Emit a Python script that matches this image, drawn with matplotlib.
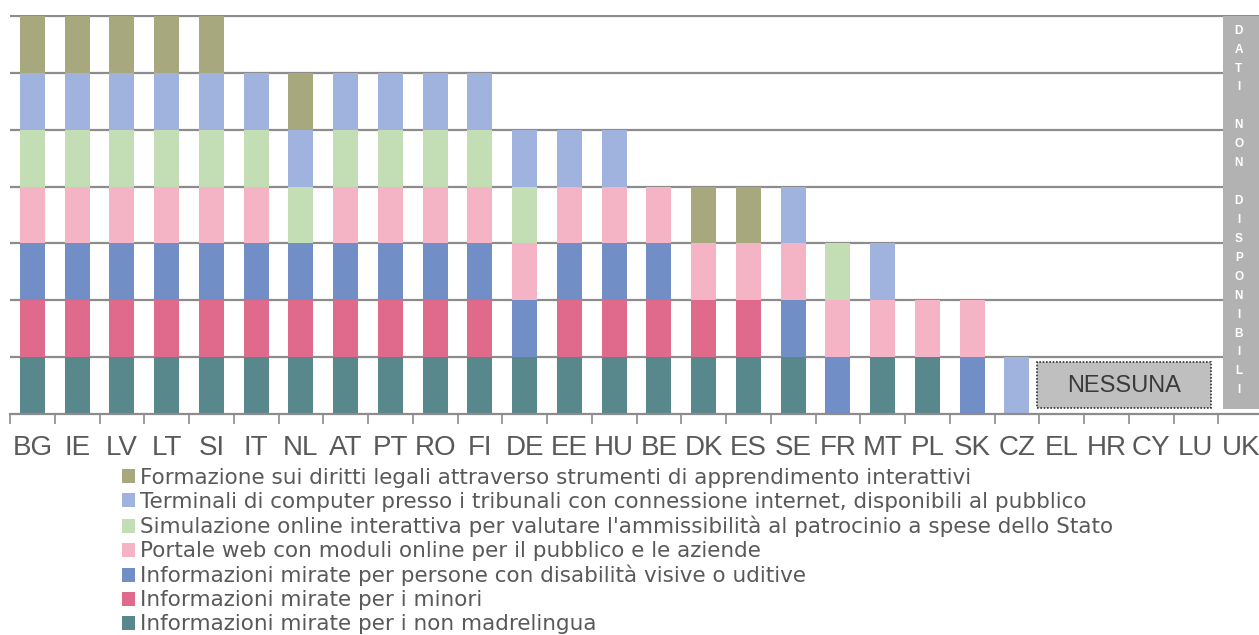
import matplotlib.pyplot as plt
from matplotlib.patches import Rectangle, Patch

plt.rcParams['font.family'] = ['Liberation Sans', 'DejaVu Sans']

# countries on the x axis
countries = ["BG", "IE", "LV", "LT", "SI", "IT", "NL", "AT", "PT", "RO", "FI",
             "DE", "EE", "HU", "BE", "DK", "ES", "SE", "FR", "MT", "PL", "SK",
             "CZ", "EL", "HR", "CY", "LU", "UK"]

# which tools each country has, stacked bottom to top (codes below)
stacks = ["GFEDCBA", "GFEDCBA", "GFEDCBA", "GFEDCBA", "GFEDCBA",
          "GFEDCB", "GFECBA", "GFEDCB", "GFEDCB", "GFEDCB", "GFEDCB",
          "GEDCB", "GFEDB", "GFEDB", "GFED", "GFDA", "GFDA", "GEDB",
          "EDC", "GDB", "GD", "ED", "B", "", "", "", "", ""]

codes = ["A", "B", "C", "D", "E", "F", "G"]
labels = [
    "Formazione sui diritti legali attraverso strumenti di apprendimento interattivi",
    "Terminali di computer presso i tribunali con connessione internet, disponibili al pubblico",
    "Simulazione online interattiva per valutare l'ammissibilità al patrocinio a spese dello Stato",
    "Portale web con moduli online per il pubblico e le aziende",
    "Informazioni mirate per persone con disabilità visive o uditive",
    "Informazioni mirate per i minori",
    "Informazioni mirate per i non madrelingua",
]
colors = {"A": "#A8A87F", "B": "#A0B3DE", "C": "#C3DEB4", "D": "#F5B4C5",
          "E": "#728EC7", "F": "#DF6A8B", "G": "#58878C"}

no_tools = ["EL", "HR", "CY", "LU"]
no_data = "UK"

fig = plt.figure(figsize=(12.59, 6.35), dpi=100)
ax = fig.add_axes([10 / 1259, 1 - 414 / 635, 28 * 44.75 / 1259, 399 / 635])

n_levels = 7
for lvl in range(1, n_levels + 1):
    ax.axhline(lvl, color="#8C8C8C", linewidth=1.6, zorder=1)

for i, stack in enumerate(stacks):
    for j, code in enumerate(stack):
        ax.bar(i, 1, bottom=j, width=0.56, color=colors[code], zorder=2)

# no data column
iu = countries.index(no_data)
ax.bar(iu + 0.05, n_levels - 0.09, bottom=0.09, width=0.9, color="#B2B2B2", zorder=3)
ax.text(iu - 0.04, 3.58, "D\nA\nT\nI\n\nN\nO\nN\n\nD\nI\nS\nP\nO\nN\nI\nB\nI\nL\nI",
        ha="center", va="center", color="white", fontsize=8.5, fontweight="bold",
        linespacing=1.77, zorder=4)

# "none" box
i0 = countries.index(no_tools[0])
i1 = countries.index(no_tools[-1])
bx0 = i0 - 0.55
bw = (i1 - i0) + 0.89
box = Rectangle((bx0, 0.1), bw, 0.82, facecolor="#BFBFBF",
                edgecolor="#333333", linestyle=(0, (1, 1)), linewidth=1.2, zorder=3)
ax.add_patch(box)
ax.text(bx0 + bw / 2, 0.5, "NESSUNA", ha="center", va="center", fontsize=17,
        color="#3A3A3A", zorder=4)

ax.set_xlim(-0.5, len(countries) - 0.5)
ax.set_ylim(0, n_levels + 0.02)
ax.set_xticks([i - 0.5 for i in range(len(countries))], minor=False)
ax.set_xticklabels([])
ax.set_xticks(range(len(countries)), minor=True)
ax.set_xticklabels(countries, minor=True, fontsize=20, color="#595959")
ax.tick_params(axis="x", which="major", length=7, width=1.2, color="#8C8C8C")
ax.tick_params(axis="x", which="minor", length=0, pad=15)
ax.set_yticks([])
for s in ["left", "right", "top"]:
    ax.spines[s].set_visible(False)
ax.spines["bottom"].set_color("#8C8C8C")
ax.spines["bottom"].set_linewidth(1.6)

handles = [Patch(facecolor=colors[c], edgecolor="none") for c in codes]
fig.legend(handles, labels, loc="upper left", bbox_to_anchor=(122 / 1259, 1 - 468 / 635),
           frameon=False, handlelength=0.62, handleheight=0.62,
           handletextpad=0.2, labelspacing=0.18, borderaxespad=0, borderpad=0,
           labelcolor="#595959", prop={"family": "DejaVu Sans", "size": 15.5})

fig.savefig("out.png", dpi=100)
